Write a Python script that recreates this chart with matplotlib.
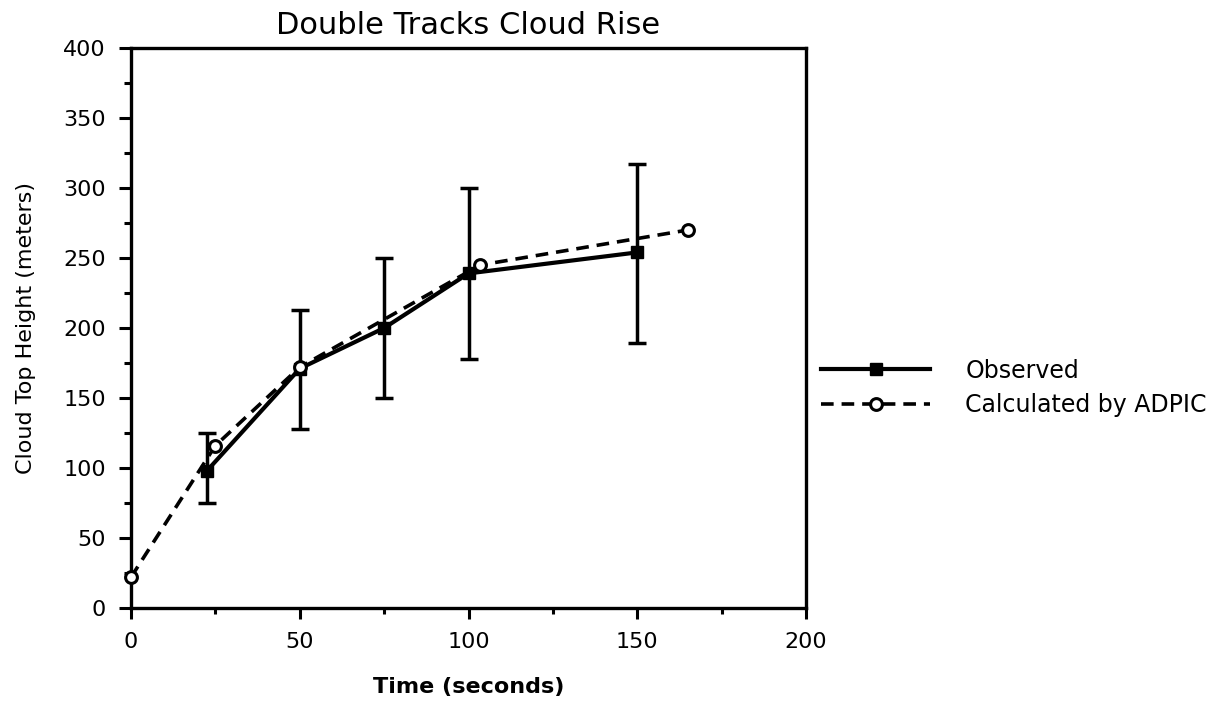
import matplotlib
matplotlib.use("Agg")
import matplotlib.pyplot as plt
from matplotlib.ticker import MultipleLocator

obs_t = [22.5, 50, 75, 100, 150]
obs_h = [98, 171, 200, 239, 254]
obs_lo = [75, 128, 150, 178, 189]
obs_hi = [125, 213, 250, 300, 317]

calc_t = [0, 25, 50, 103.5, 165]
calc_h = [22, 116, 172, 245, 270]

plt.rcParams['font.family'] = ['DejaVu Sans']
fig = plt.figure(figsize=(12.32, 7.03), dpi=100)
ax = fig.add_axes([131/1232, 1-608/703, (806-131)/1232, (608-48)/703])

yerr = [[h - lo for h, lo in zip(obs_h, obs_lo)], [hi - h for h, hi in zip(obs_h, obs_hi)]]
ax.errorbar(obs_t, obs_h, yerr=yerr, fmt='none', ecolor='black', elinewidth=2.5,
            capsize=6.5, capthick=2.5, zorder=2)
l1, = ax.plot(obs_t, obs_h, '-', color='black', lw=3, marker='s', markersize=9,
              markerfacecolor='black', zorder=3, label='Observed')
l2, = ax.plot(calc_t, calc_h, '--', color='black', lw=2.6, dashes=(3.5, 2.2), marker='o',
              markersize=8.5, markerfacecolor='white', markeredgewidth=2.2, zorder=4,
              label='Calculated by ADPIC', clip_on=False)

ax.set_xlim(0, 200)
ax.set_ylim(0, 400)
ax.xaxis.set_major_locator(MultipleLocator(50))
ax.xaxis.set_minor_locator(MultipleLocator(25))
ax.yaxis.set_major_locator(MultipleLocator(50))
ax.yaxis.set_minor_locator(MultipleLocator(25))
ax.tick_params(which='both', direction='out', width=2.2, labelsize=16)
ax.tick_params(axis='x', which='both', pad=9)
ax.tick_params(axis='y', which='both', pad=9)
ax.tick_params(axis='x', which='major', length=8)
ax.tick_params(axis='x', which='minor', length=4)
ax.tick_params(axis='y', which='major', length=9)
ax.tick_params(axis='y', which='minor', length=5)
for s in ax.spines.values():
    s.set_linewidth(2.4)

ax.set_title('Double Tracks Cloud Rise', fontsize=22, pad=10)
ax.set_xlabel('Time (seconds)', fontsize=16, fontweight='semibold', labelpad=18)
ax.set_ylabel('Cloud Top Height (meters)', fontsize=16, labelpad=20)

fig.legend(handles=[l1, l2], loc='center left', bbox_to_anchor=(800/1232, 1-388/703),
           frameon=False, fontsize=17, handlelength=4.6, handletextpad=1.5,
           labelspacing=0.45)

fig.savefig('out.png', dpi=100)
